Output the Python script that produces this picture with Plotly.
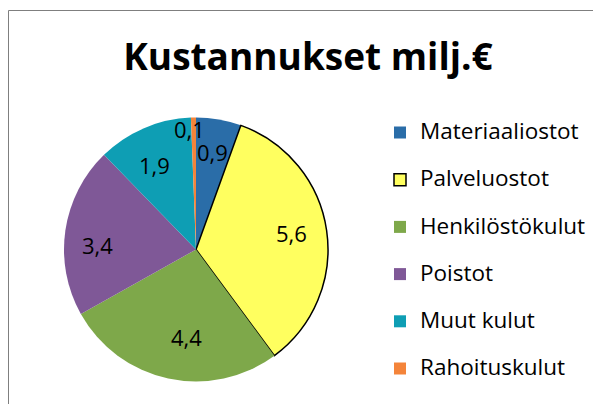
import math
import plotly.graph_objects as go

# ---- data ----
categories = ["Materiaaliostot", "Palveluostot", "Henkilöstökulut",
              "Poistot", "Muut kulut", "Rahoituskulut"]
values = [0.9, 5.6, 4.4, 3.4, 1.9, 0.1]
title_text = "Kustannukset milj.€"

# ---- style ----
colors = ["#2A6DA8", "#FFFF5F", "#7EA84A", "#7F5897", "#0E9EB4", "#F4843A"]
line_widths = [0, 1.5, 0, 0, 0, 0]
OFF = 8                                 # page body margin
W, H = 601 - OFF, 404 - OFF
CX, CY, R = 196, 249.5, 132            # pie centre / radius in page px
label_rfrac = [0.753, 0.731, 0.67, 0.747, 0.715, 0.914]
label_dang = [-0.3, -1.8, -6.0, -5.4, -3.2, -2.2]
FONT = "Open Sans"


def px(x):
    return (x - OFF) / W


def py(y):
    return 1 - (y - OFF) / H


legend_labels = [f'<span style="font-size:22.5px">{c}</span><br> ' for c in categories]

fig = go.Figure(go.Pie(
    labels=legend_labels,
    values=values,
    sort=False,
    direction="clockwise",
    rotation=0,
    textinfo="none",
    hoverinfo="label+value",
    marker=dict(colors=colors, line=dict(color="black", width=line_widths)),
    domain=dict(x=[px(CX - R), px(CX + R)], y=[py(CY + R), py(CY - R)]),
))

# data labels computed from the slice angles
annotations = []
total = sum(values)
cum = 0.0
for i, v in enumerate(values):
    mid = (cum + v / 2) / total * 360 + label_dang[i]
    cum += v
    r = R * label_rfrac[i]
    x = CX + r * math.sin(math.radians(mid))
    y = CY - r * math.cos(math.radians(mid))
    annotations.append(dict(
        x=px(x), y=py(y), xref="paper", yref="paper",
        text=f"{v:.1f}".replace(".", ","), showarrow=False,
        xanchor="center", yanchor="middle",
        font=dict(family=FONT, size=22, color="black"),
    ))

shapes = [
    dict(type="line", xref="paper", yref="paper",
         x0=px(8.5), x1=1.01, y0=py(10.5), y1=py(10.5),
         line=dict(color="#7F7F7F", width=1)),
    dict(type="line", xref="paper", yref="paper",
         x0=px(8.5), x1=px(8.5), y0=py(10.5), y1=-0.01,
         line=dict(color="#7F7F7F", width=1)),
]

fig.update_layout(
    width=W, height=H,
    margin=dict(l=0, r=0, t=0, b=0, autoexpand=False),
    paper_bgcolor="white", plot_bgcolor="white",
    title=dict(text=title_text, x=px(308), xanchor="center",
               y=py(57), yanchor="middle", yref="container",
               font=dict(family=FONT, size=37, color="black", weight="bold")),
    legend=dict(x=px(380), xanchor="left", y=py(114.95), yanchor="top",
                valign="top", bgcolor="rgba(0,0,0,0)", borderwidth=0,
                font=dict(family=FONT, size=17, color="black")),
    annotations=annotations,
    shapes=shapes,
    showlegend=True,
)

fig.write_html("out.html")
